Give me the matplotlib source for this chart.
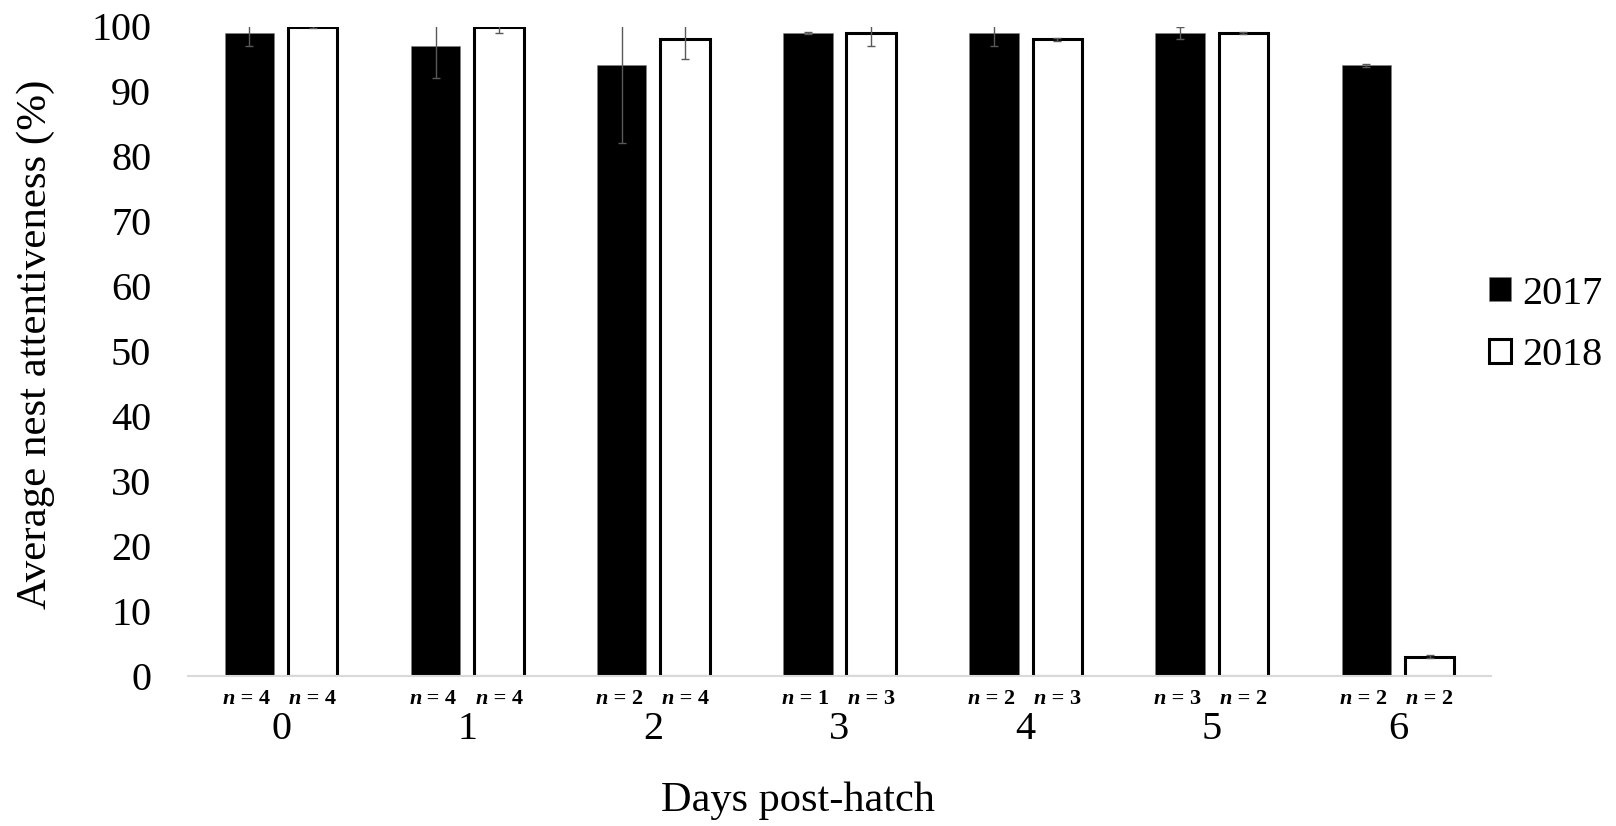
import matplotlib
matplotlib.use("Agg")
import matplotlib.pyplot as plt
import matplotlib.transforms as mtransforms
import numpy as np

plt.rcParams['font.family'] = ['Liberation Serif', 'DejaVu Serif']

days = ['0', '1', '2', '3', '4', '5', '6']
series_names = ['2017', '2018']
att_2017 = [99, 97, 94, 99, 99, 99, 94]
err_2017 = [2, 5, 12, 0.2, 2, 1, 0.2]
att_2018 = [100, 100, 98, 99, 98, 99, 3]
err_2018 = [0.3, 1, 3, 2, 0.2, 0.2, 0.2]
n_2017 = [4, 4, 2, 1, 2, 3, 2]
n_2018 = [4, 4, 4, 3, 3, 2, 2]
yticks = [0, 10, 20, 30, 40, 50, 60, 70, 80, 90, 100]

W, H = 1616, 826
fig = plt.figure(figsize=(W / 100, H / 100), dpi=100)
ax = fig.add_axes([188 / W, 1 - 676 / H, (1491 - 188) / W, (676 - 26.5) / H])

x = np.arange(len(days))
bw = 0.265
off = 0.17
err_kw = dict(ecolor='#595959', elinewidth=1.0, capsize=3, capthick=1.0)
ax.bar(x - off, att_2017, bw, color='black', edgecolor='#808080', linewidth=0.4,
       label=series_names[0], zorder=2)
ax.bar(x + off, att_2018, bw, color='white', edgecolor='black', linewidth=2.2,
       label=series_names[1], zorder=2)
ax.errorbar(x - off, att_2017, yerr=err_2017, fmt='none', zorder=3, **err_kw)
ax.errorbar(x + off, att_2018, yerr=err_2018, fmt='none', zorder=3, **err_kw)

ax.set_xlim(-0.5, 6.5)
ax.set_ylim(0, 100)
ax.set_yticks(yticks)
ax.set_xticks(x)
ax.set_xticklabels(days)
ax.tick_params(axis='both', length=0, labelsize=29)
ax.tick_params(axis='y', pad=26.5)
ax.tick_params(axis='x', pad=25.5)
for s in ['left', 'right', 'top']:
    ax.spines[s].set_visible(False)
ax.spines['bottom'].set_color('#d9d9d9')
ax.spines['bottom'].set_linewidth(1.5)

# n labels: italic bold "n" followed by bold " = k", centred under each bar
renderer = fig.canvas.get_renderer()
tr = ax.get_xaxis_transform()
ny = -21 / 649.5
nfs = 16


def n_label(xpos, k):
    t1 = ax.text(0, 0, 'n', fontsize=nfs, fontweight='bold', fontstyle='italic')
    t2 = ax.text(0, 0, ' = %d' % k, fontsize=nfs, fontweight='bold')
    w1 = t1.get_window_extent(renderer).width
    w2 = t2.get_window_extent(renderer).width
    t1.remove()
    t2.remove()
    total = w1 + w2
    to1 = mtransforms.offset_copy(tr, fig=fig, x=-total / 2, y=0, units='dots')
    to2 = mtransforms.offset_copy(tr, fig=fig, x=-total / 2 + w1, y=0, units='dots')
    ax.text(xpos, ny, 'n', transform=to1, ha='left', va='center_baseline',
            fontsize=nfs, fontweight='bold', fontstyle='italic')
    ax.text(xpos, ny, ' = %d' % k, transform=to2, ha='left', va='center_baseline',
            fontsize=nfs, fontweight='bold')


for i in range(len(days)):
    n_label(x[i] - off - 0.015, n_2017[i])
    n_label(x[i] + off, n_2018[i])

fig.text(36 / W, 1 - 344 / H, 'Average nest attentiveness (%)', rotation=90,
         ha='center', va='center', fontsize=31)
fig.text(798 / W, 1 - 801 / H, 'Days post-hatch', ha='center', va='center', fontsize=30.5)

fig.legend(loc='center left', bbox_to_anchor=(1489 / W, 1 - 325 / H), frameon=False,
           fontsize=29, handlelength=0.55, handleheight=0.55, handletextpad=0.27,
           labelspacing=0.62, borderpad=0, borderaxespad=0)

fig.savefig('out.png', dpi=100)
